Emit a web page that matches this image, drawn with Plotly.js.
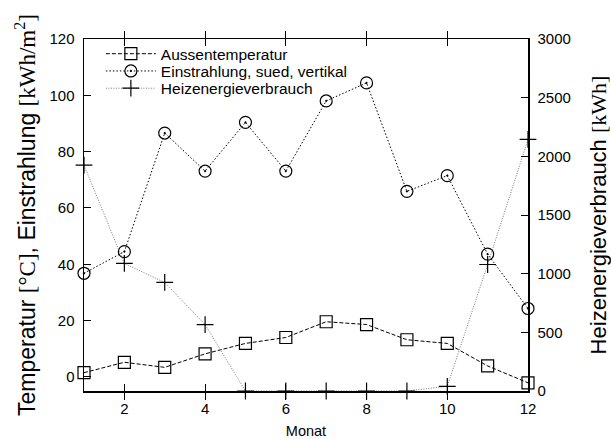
<!DOCTYPE html>
<html>
<head>
<meta charset="utf-8">
<script src="https://cdn.plot.ly/plotly-3.0.1.min.js"></script>
<style>html,body{margin:0;padding:0;background:#fff;}#chart{width:611px;height:439px;}</style>
</head>
<body>
<div id="chart"></div>
<script>
const months = [1,2,3,4,5,6,7,8,9,10,11,12];
const aussentemperatur = [1.5, 5.2, 3.4, 8.2, 11.9, 14.0, 19.6, 18.6, 13.2, 11.9, 3.9, -2.1];
const einstrahlung = [36.8, 44.5, 86.6, 73.1, 90.4, 73.1, 98.0, 104.4, 65.9, 71.5, 43.6, 24.3];
const heizenergie = [1925, 1087, 925, 566, 0, 0, 0, 0, 0, 40, 1078, 2144];
const seriesNames = ['Aussentemperatur', 'Einstrahlung, sued, vertikal', 'Heizenergieverbrauch'];
const xTicks = [2,4,6,8,10,12];
const yTicks = [0,20,40,60,80,100,120];
const y2Ticks = [0,500,1000,1500,2000,2500,3000];

const sans = "'Liberation Sans', Arial, sans-serif";
const SERIF = "Liberation Serif";

const traces = [
  {x: months, y: aussentemperatur, name: seriesNames[0], type: 'scatter', mode: 'lines+markers', legend: 'legend',
   line: {color: '#000', width: 1, dash: '4px,2px'}, cliponaxis: false,
   marker: {symbol: 'square-open', size: 12, color: '#000', line: {width: 1.2, color: '#000'}}},
  {x: months, y: einstrahlung, name: seriesNames[1], type: 'scatter', mode: 'lines+markers', legend: 'legend2',
   line: {color: '#000', width: 1, dash: '1.5px,2px'}, cliponaxis: false,
   marker: {symbol: 'circle-open-dot', size: 12, color: '#000', line: {width: 1.2, color: '#000'}}},
  {x: months, y: heizenergie, name: seriesNames[2], type: 'scatter', mode: 'lines+markers', yaxis: 'y2', legend: 'legend3',
   line: {color: '#777', width: 1, dash: '1px,1.5px'}, cliponaxis: false,
   marker: {symbol: 'cross-thin-open', size: 12, color: '#000', line: {width: 1.2, color: '#000'}}}
];

function leg(y) {
  return {x: 0.038, y: y, xanchor: 'left', yanchor: 'middle', bgcolor: 'rgba(0,0,0,0)',
          font: {size: 15.5, family: sans, color: '#000'}, itemwidth: 50, borderwidth: 0};
}

const axisCommon = {ticks: 'inside', ticklen: 7, tickcolor: '#000', tickwidth: 1, showline: true, linecolor: '#000',
                    linewidth: 1.5, showgrid: false, zeroline: false, tickfont: {size: 15, family: sans}};

const layout = {
  width: 611, height: 439,
  margin: {l: 84, r: 83, t: 39, b: 48, pad: 0},
  paper_bgcolor: '#fff', plot_bgcolor: '#fff',
  font: {family: sans, size: 15, color: '#000'},
  showlegend: true,
  legend: leg(0.957),
  legend2: leg(0.908),
  legend3: leg(0.859),
  xaxis: Object.assign({}, axisCommon, {range: [1, 12], tickvals: xTicks, ticktext: xTicks.map(String),
          mirror: 'allticks', ticklabelstandoff: 3,
          title: {text: 'Monat', font: {size: 14.5}, standoff: 10}}),
  yaxis: Object.assign({}, axisCommon, {range: [-5, 120], tickvals: yTicks, ticktext: yTicks.map(String),
          mirror: true, automargin: false, ticklabelstandoff: 5,
          title: {text: "Temperatur <span style=\"font-family:" + SERIF + "\">[°C]</span>, Einstrahlung <span style=\"font-family:" + SERIF + "\">[kWh/m<sup>2</sup>]</span>",
                  font: {size: 23}, standoff: 7}}),
  yaxis2: Object.assign({}, axisCommon, {range: [0, 3000], tickvals: y2Ticks, ticktext: y2Ticks.map(String),
          overlaying: 'y', side: 'right', automargin: false, ticklabelstandoff: 5,
          title: {text: "Heizenergieverbrauch <span style=\"font-family:" + SERIF + "\">[kWh]</span>", font: {size: 22}, standoff: 22}})
};

Plotly.newPlot('chart', traces, layout, {displayModeBar: false, staticPlot: true});
</script>
</body>
</html>
